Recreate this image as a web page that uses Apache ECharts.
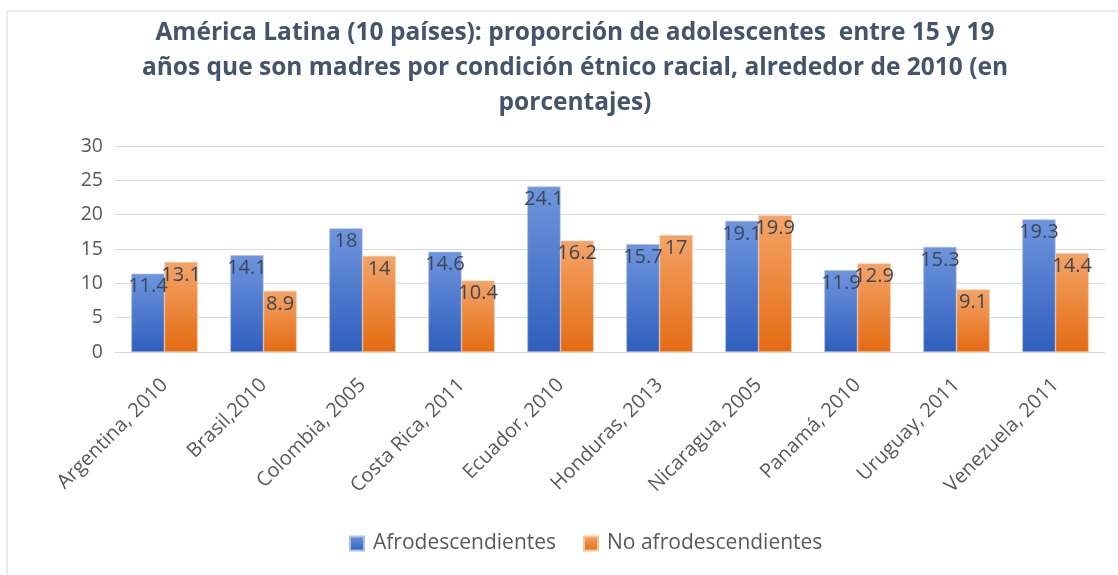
<!DOCTYPE html>
<html>
<head>
<meta charset="utf-8">
<script src="https://cdn.jsdelivr.net/npm/echarts@6/dist/echarts.min.js"></script>
<style>
  html, body { margin: 0; padding: 0; background: #fff; }
  #chart { width: 1118px; height: 575px; }
</style>
</head>
<body>
<div id="chart"></div>
<script>
// Countries and survey years
const categories = [
  'Argentina, 2010', 'Brasil,2010', 'Colombia, 2005', 'Costa Rica, 2011', 'Ecuador, 2010',
  'Honduras, 2013', 'Nicaragua, 2005', 'Panamá, 2010', 'Uruguay, 2011', 'Venezuela, 2011'
];
// Share of adolescent mothers (%), by ethnic-racial condition
const afroValues = [11.4, 14.1, 18, 14.6, 24.1, 15.7, 19.1, 11.9, 15.3, 19.3];
const noAfroValues = [13.1, 8.9, 14, 10.4, 16.2, 17, 19.9, 12.9, 9.1, 14.4];
const seriesNames = ['Afrodescendientes', 'No afrodescendientes'];
const yTicks = { min: 0, max: 30, interval: 5 };

const FONT = '"Open Sans", "Noto Sans", sans-serif';
const TEXT = '#595959';

function grad(top, bottom) {
  return new echarts.graphic.LinearGradient(0, 0, 0, 1, [
    { offset: 0, color: top },
    { offset: 1, color: bottom }
  ]);
}

const labelStyle = {
  show: true,
  position: 'insideTop',
  distance: 3,
  color: '#3d4656',
  fontFamily: FONT,
  fontSize: 20
};

const chart = echarts.init(document.getElementById('chart'), null, { renderer: 'canvas' });
chart.setOption({
  backgroundColor: '#fff',
  animation: false,
  graphic: [{
    type: 'rect',
    shape: { x: 7, y: 11, width: 1200, height: 700 },
    style: { fill: 'none', stroke: '#e6e6e6', lineWidth: 1.5 },
    silent: true
  }],
  title: {
    text: 'América Latina (10 países): proporción de adolescentes  entre 15 y 19\naños que son madres por condición étnico racial, alrededor de 2010 (en\nporcentajes)',
    left: 570,
    textAlign: 'center',
    top: 11,
    textStyle: {
      fontFamily: FONT,
      fontWeight: 'bold',
      fontSize: 24.5,
      lineHeight: 35,
      color: '#44546a'
    }
  },
  legend: {
    data: seriesNames,
    bottom: 16,
    left: 344,
    itemWidth: 14,
    itemHeight: 14,
    itemGap: 27,
    icon: 'rect',
    textStyle: { fontFamily: FONT, fontSize: 21, color: TEXT, padding: [0, 0, 0, 4] }
  },
  grid: { left: 115, right: 13, top: 146, bottom: 223, containLabel: false },
  xAxis: {
    type: 'category',
    data: categories,
    axisLine: { show: true, lineStyle: { color: '#d9d9d9' } },
    axisTick: { show: false },
    axisLabel: {
      rotate: 45,
      margin: 30,
      interval: 0,
      color: TEXT,
      fontFamily: FONT,
      fontSize: 20
    }
  },
  yAxis: {
    type: 'value',
    min: yTicks.min,
    max: yTicks.max,
    interval: yTicks.interval,
    axisLine: { show: false },
    axisTick: { show: false },
    splitLine: { lineStyle: { color: '#d9d9d9', width: 1 } },
    axisLabel: { color: TEXT, fontFamily: FONT, fontSize: 19.5, margin: 12 }
  },
  series: [
    {
      name: seriesNames[0],
      type: 'bar',
      data: afroValues,
      barGap: '0%',
      barCategoryGap: '33%',
      itemStyle: { color: grad('#6f95dd', '#2f5ebd'), borderColor: '#a9c0ec', borderWidth: 0.6 },
      label: labelStyle
    },
    {
      name: seriesNames[1],
      type: 'bar',
      data: noAfroValues,
      itemStyle: { color: grad('#f4a468', '#e46b12'), borderColor: '#f8c59e', borderWidth: 0.6 },
      label: labelStyle
    }
  ]
});
</script>
</body>
</html>
